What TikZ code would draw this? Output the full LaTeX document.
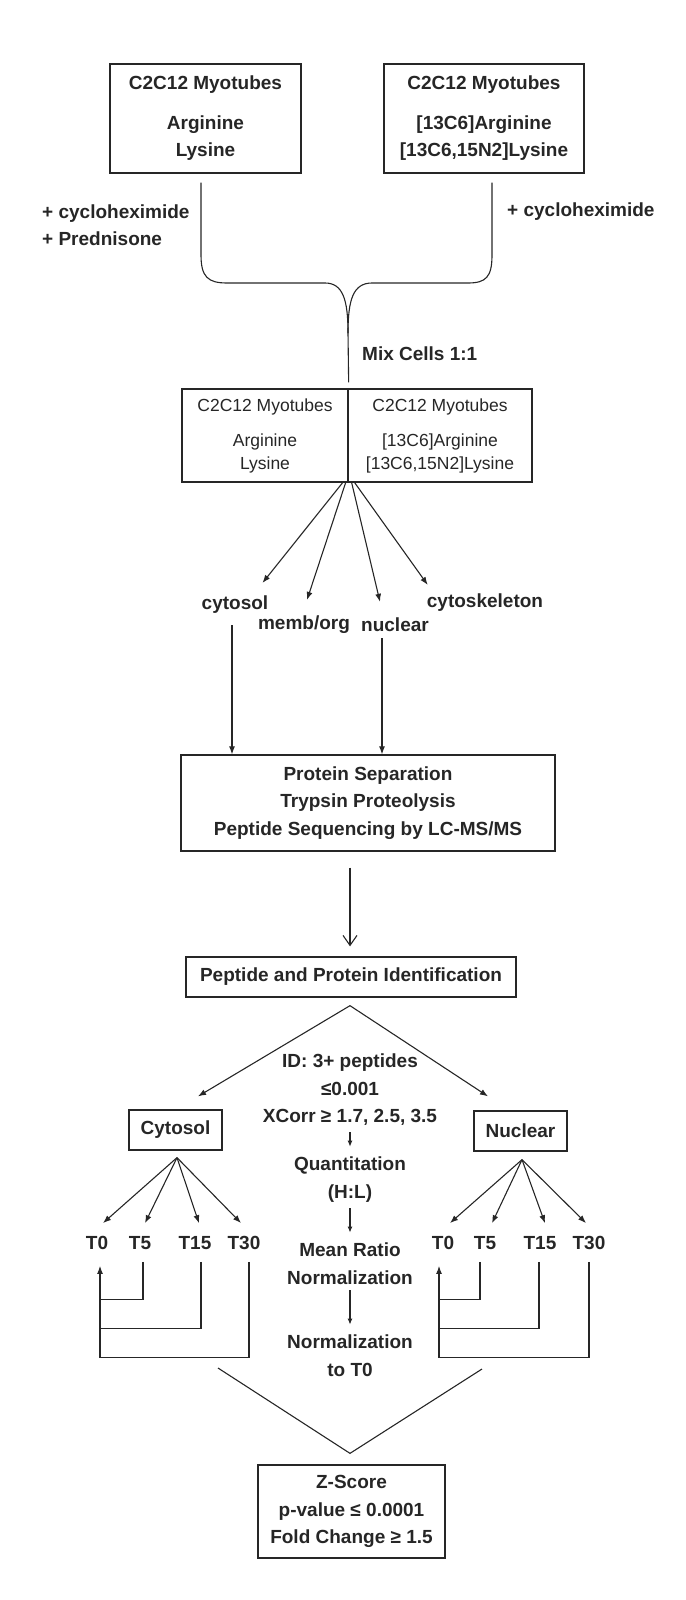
\documentclass[tikz,border=0pt]{standalone}
\usepackage{fontspec}
\setmainfont{Liberation Sans}
\usetikzlibrary{arrows.meta,positioning}

\begin{document}
\begin{tikzpicture}[x=1pt,y=-1pt,
    every node/.style={font=\fontsize{19}{27.5}\selectfont\bfseries,text=black!85},
    box/.style={draw=black!85,line width=1.3pt,inner sep=0pt,align=center},
    lbl/.style={inner sep=0pt,align=center},
    ln/.style={draw=black!85,line width=1.1pt},
    arr/.style={ln,-{Latex[length=8pt,width=6pt]}},
    sarr/.style={ln,-{Latex[length=6pt,width=5pt]},shorten <=6pt,shorten >=10pt}]

    \useasboundingbox (0,0) rectangle (685,1600);

    % labelled cultures
    \node[box,minimum width=191pt,minimum height=109pt] (light) at (205.5,118.5)
      {C2C12 Myotubes\\[12pt]Arginine\\Lysine};
    \node[box,minimum width=200pt,minimum height=109pt] (heavy) at (484,118.5)
      {C2C12 Myotubes\\[12pt]{}[13C6]Arginine\\{}[13C6,15N2]Lysine};

    \node[lbl,anchor=west,align=left] (treatL) at (42,225) {+ cycloheximide\\+ Prednisone};
    \node[lbl,anchor=west] (treatH) at (507,212) {+ cycloheximide};

    % mixed cells
    \node[box,font=\fontsize{17.5}{23}\selectfont,minimum width=166pt,minimum height=93pt] (mixL) at (265,435.5)
      {C2C12 Myotubes\\[12pt]Arginine\\Lysine};
    \node[box,font=\fontsize{17.5}{23}\selectfont,minimum width=184pt,minimum height=93pt] (mixR) at (440,435.5)
      {C2C12 Myotubes\\[12pt]{}[13C6]Arginine\\{}[13C6,15N2]Lysine};
    \node[lbl,anchor=west] (mixlbl) at (362,354) {Mix Cells 1:1};

    \coordinate (join) at (348,333);
    \draw[ln] ([xshift=-4.5pt,yshift=-9pt]light.south) -- (201,255)
      .. controls (201,277) and (208,283) .. (227,283) -- (325,283)
      .. controls (343,283) and (348,300) .. (join);
    \draw[ln] ([xshift=8pt,yshift=-9pt]heavy.south) -- (492,255)
      .. controls (492,277) and (486,283) .. (468,283) -- (372,283)
      .. controls (353,283) and (348,300) .. (join);
    \draw[ln] (join) -- ([yshift=6pt]mixL.north east);

    % fractions
    \node[lbl] (cyto) at (235,605) {cytosol};
    \node[lbl] (memb) at (304,625) {memb/org};
    \node[lbl] (nucl) at (395,625) {nuclear};
    \node[lbl] (cskel) at (485,603) {cytoskeleton};

    \draw[arr] ([xshift=-6pt]mixL.south east) -- ([xshift=-6pt,yshift=13pt]cyto.north east);
    \draw[arr] ([xshift=-3pt]mixL.south east) -- ([xshift=3pt,yshift=16pt]memb.north);
    \draw[arr] ([xshift=3pt]mixL.south east) -- ([xshift=-15pt,yshift=16pt]nucl.north);
    \draw[arr] ([xshift=6pt]mixL.south east) -- ([xshift=1pt,yshift=9pt]cskel.north west);

    \node[box,minimum width=374pt,minimum height=96pt] (prot) at (368,803)
      {Protein Separation\\Trypsin Proteolysis\\Peptide Sequencing by LC-MS/MS};

    \draw[arr] ([xshift=-3pt,yshift=-11pt]cyto.south) -- ([xshift=-3pt]cyto.south |- prot.north);
    \draw[arr] ([xshift=-13pt,yshift=-6pt]nucl.south) -- ([xshift=-13pt]nucl.south |- prot.north);

    \node[box,minimum width=330pt,minimum height=40pt] (pid) at (351,977)
      {Peptide and Protein Identification};
    \draw[ln,-{Straight Barb[length=10pt,width=14pt]}] ([xshift=-18pt,yshift=-16pt]prot.south)
      -- ([xshift=-1pt,yshift=10pt]pid.north);

    \node[box,minimum width=93pt,minimum height=40pt] (cytbox) at (175.5,1130) {Cytosol};
    \node[box,minimum width=93pt,minimum height=40pt] (nucbox) at (520.5,1131) {Nuclear};
    \draw[arr] ([xshift=-1pt,yshift=-8pt]pid.south) -- ([xshift=22.5pt,yshift=13pt]cytbox.north);
    \draw[arr] ([xshift=-1pt,yshift=-8pt]pid.south) -- ([xshift=-32.5pt,yshift=14pt]nucbox.north);

    % criteria and normalisation
    \node[lbl] (idcrit) at (350,1090) {ID: 3+ peptides\\≤0.001\\XCorr ≥ 1.7, 2.5, 3.5};
    \node[lbl] (quant) at (350,1179.5) {Quantitation\\(H:L)};
    \node[lbl] (meanr) at (350,1263.5) {Mean Ratio\\Normalization};
    \node[lbl] (normt) at (350,1355.5) {Normalization\\to T0};
    \draw[sarr] (idcrit) -- (quant);
    \draw[sarr] (quant) -- (meanr);
    \draw[sarr] (meanr) -- (normt);

    % time points
    \node[lbl] (cT0) at (97,1243) {T0};
    \node[lbl] (cT5) at (140,1243) {T5};
    \node[lbl] (cT15) at (195,1243) {T15};
    \node[lbl] (cT30) at (244,1243) {T30};
    \node[lbl] (nT0) at (443,1243) {T0};
    \node[lbl] (nT5) at (485,1243) {T5};
    \node[lbl] (nT15) at (540,1243) {T15};
    \node[lbl] (nT30) at (589,1243) {T30};

    \draw[arr] ([xshift=1.5pt,yshift=-7pt]cytbox.south) -- ([xshift=6pt,yshift=13pt]cT0.north);
    \draw[arr] ([xshift=1.5pt,yshift=-7pt]cytbox.south) -- ([xshift=5pt,yshift=13pt]cT5.north);
    \draw[arr] ([xshift=1.5pt,yshift=-7pt]cytbox.south) -- ([xshift=4pt,yshift=13pt]cT15.north);
    \draw[arr] ([xshift=1.5pt,yshift=-7pt]cytbox.south) -- ([xshift=-3pt,yshift=13pt]cT30.north);
    \draw[arr] ([xshift=1.5pt,yshift=-8pt]nucbox.south) -- ([xshift=7pt,yshift=13pt]nT0.north);
    \draw[arr] ([xshift=1.5pt,yshift=-8pt]nucbox.south) -- ([xshift=7pt,yshift=13pt]nT5.north);
    \draw[arr] ([xshift=1.5pt,yshift=-8pt]nucbox.south) -- ([xshift=5pt,yshift=13pt]nT15.north);
    \draw[arr] ([xshift=1.5pt,yshift=-8pt]nucbox.south) -- ([xshift=-3pt,yshift=13pt]nT30.north);

    % comparisons to T0
    \draw[arr] ([xshift=3pt,yshift=-108pt]cT0.south) -- ([xshift=3pt,yshift=-16pt]cT0.south);
    \draw[ln] ([xshift=3pt,yshift=-12pt]cT5.south) |- ([xshift=3pt,yshift=-50pt]cT0.south);
    \draw[ln] ([xshift=6pt,yshift=-12pt]cT15.south) |- ([xshift=3pt,yshift=-79pt]cT0.south);
    \draw[ln] ([xshift=5pt,yshift=-12pt]cT30.south) |- ([xshift=3pt,yshift=-108pt]cT0.south);

    \draw[arr] ([xshift=-4pt,yshift=-108pt]nT0.south) -- ([xshift=-4pt,yshift=-16pt]nT0.south);
    \draw[ln] ([xshift=-5pt,yshift=-12pt]nT5.south) |- ([xshift=-4pt,yshift=-50pt]nT0.south);
    \draw[ln] ([xshift=-1pt,yshift=-12pt]nT15.south) |- ([xshift=-4pt,yshift=-79pt]nT0.south);
    \draw[ln] ([yshift=-12pt]nT30.south) |- ([xshift=-4pt,yshift=-108pt]nT0.south);

    % statistics
    \node[box,minimum width=187pt,minimum height=93pt] (zsc) at (351.5,1511.5)
      {Z-Score\\p-value ≤ 0.0001\\Fold Change ≥ 1.5};
    \coordinate (vl) at (218,1368);
    \coordinate (vr) at (482,1369);
    \draw[ln] (vl) -- ([xshift=-1.5pt,yshift=11pt]zsc.north) -- (vr);
\end{tikzpicture}
\end{document}
